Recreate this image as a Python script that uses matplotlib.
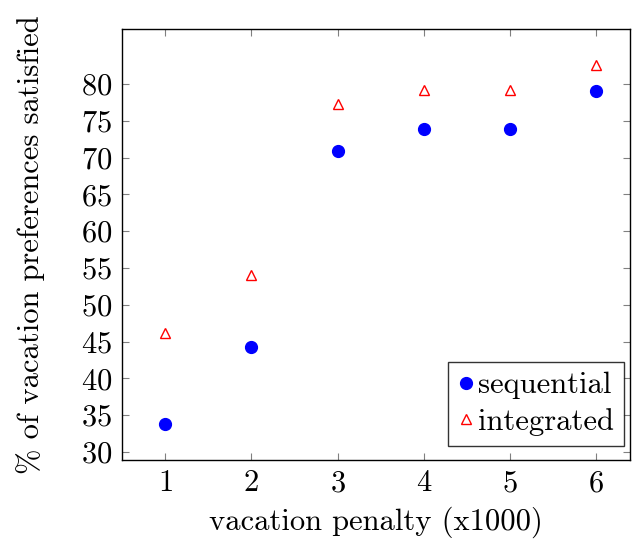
import matplotlib
matplotlib.use("Agg")
import matplotlib.pyplot as plt

# ─── DATA ────────────────────────────────────────────────────
penalty = [1, 2, 3, 4, 5, 6]
sequential = [33.8, 44.2, 70.9, 73.9, 73.9, 79.1]
integrated = [46.1, 54.0, 77.3, 79.2, 79.2, 82.6]
yticks = [30, 35, 40, 45, 50, 55, 60, 65, 70, 75, 80]

FS = 22

plt.rcParams["font.family"] = ["cmr10", "DejaVu Serif"]
plt.rcParams["mathtext.fontset"] = "cm"
plt.rcParams["axes.formatter.use_mathtext"] = True

fig = plt.figure(figsize=(6.32, 5.45), dpi=100)
ax = fig.add_axes([122 / 632, 1 - 460 / 545, (630 - 122) / 632, (460 - 29) / 545])

ax.plot(penalty, sequential, linestyle="none", marker="o", ms=8.5,
        color="#0000ff", label="sequential")
ax.plot(penalty, integrated, linestyle="none", marker="^", ms=7,
        markerfacecolor="white", markeredgecolor="#ff0000", mew=1.0,
        label="integrated")

ax.set_xlim(0.5, 6.39)
ax.set_ylim(28.9, 87.5)
ax.set_xticks(penalty)
ax.set_yticks(yticks)
ax.tick_params(direction="in", top=True, right=True, length=5,
               color="#808080", labelsize=FS, pad=7)
for s in ax.spines.values():
    s.set_linewidth(1.0)

ax.set_xlabel("vacation penalty (x1000)", fontsize=FS, labelpad=7)
ax.set_ylabel("% of vacation preferences satisfied", fontsize=FS, labelpad=26)

# legend box pinned to lower right, like the pgfplots one
leg = ax.legend(loc="lower right", bbox_to_anchor=(0.988, 0.033),
                fontsize=FS, frameon=True, fancybox=False,
                edgecolor="black", handlelength=0.5, handletextpad=0.15,
                borderpad=0.33, labelspacing=0.28, borderaxespad=0)
leg.get_frame().set_linewidth(1.0)

fig.savefig("out.png", dpi=100)
